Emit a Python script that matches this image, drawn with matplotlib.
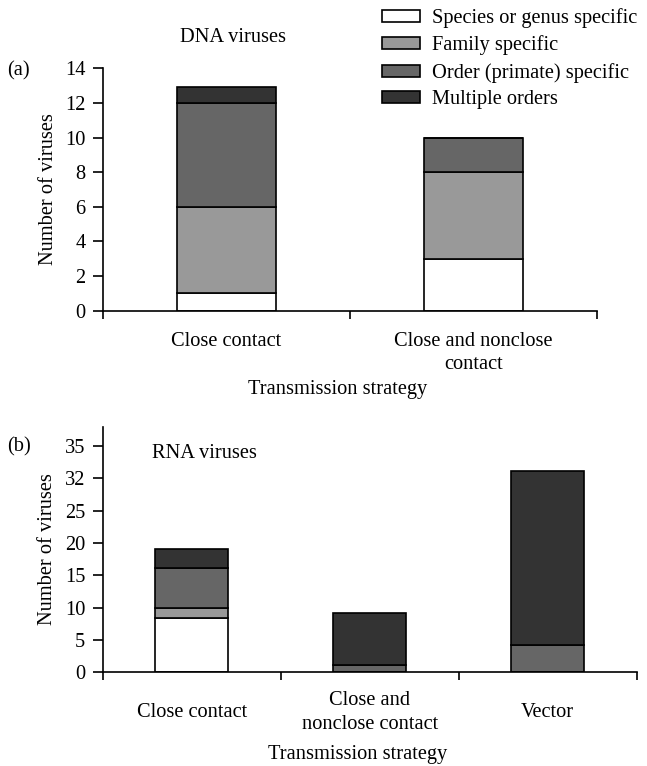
import numpy as np
import matplotlib.pyplot as plt

plt.rcParams["font.family"] = ["Liberation Serif", "DejaVu Serif"]
plt.rcParams["font.size"] = 14.7

# data
host_range = ["Species or genus specific", "Family specific",
              "Order (primate) specific", "Multiple orders"]
colors = ["white", "#999999", "#666666", "#333333"]

dna_cats = ["Close contact", "Close and nonclose\ncontact"]
dna_vals = [[1, 3],      # species or genus
            [5, 5],      # family
            [6, 2],      # order
            [0.9, 0]]    # multiple orders

rna_cats = ["Close contact", "Close and\nnonclose contact", "Vector"]
rna_vals = [[8.4, 0, 0],
            [1.6, 0, 0],
            [6.2, 1.2, 4.3],
            [2.9, 8.0, 26.8]]
rna_ticks = [0, 5, 10, 15, 20, 25, 30, 35]
rna_ticklabels = ["0", "5", "10", "15", "20", "25", "32", "35"]

W, H = 647, 766
fig = plt.figure(figsize=(W / 100, H / 100), dpi=100)
ax1 = fig.add_axes([103 / W, 1 - 310.7 / H, 494 / W, 242.4 / H])
ax2 = fig.add_axes([102.7 / W, 1 - 672.3 / H, 534 / W, 245.6 / H])


def stacked(ax, cats, vals, width):
    x = np.arange(len(cats))
    bottom = np.zeros(len(cats))
    handles = []
    for v, c, lab in zip(vals, colors, host_range):
        v = np.array(v, dtype=float)
        h = ax.bar(x, v, width, bottom=bottom, color=c, edgecolor="black",
                   linewidth=1.2, label=lab)
        handles.append(h)
        bottom += v
    ax.set_xlim(-0.5, len(cats) - 0.5)
    ax.set_xticks(np.arange(len(cats) + 1) - 0.5)
    ax.set_xticklabels([])
    ax.set_xticks(x, minor=True)
    ax.tick_params(axis="x", which="minor", length=0)
    ax.tick_params(axis="x", which="major", length=6, width=1.2, direction="out")
    ax.tick_params(axis="y", length=7, width=1.2, direction="out", pad=5.5)
    for s in ["top", "right"]:
        ax.spines[s].set_visible(False)
    for s in ["left", "bottom"]:
        ax.spines[s].set_linewidth(1.2)
    ax.set_xlabel("Transmission strategy", va="center")
    ax.set_ylabel("Number of viruses", va="center")
    return handles


handles = stacked(ax1, dna_cats, dna_vals, 0.4)
ax1.set_ylim(0, 14)
ax1.set_yticks(range(0, 15, 2))
ax1.set_xticklabels(dna_cats, minor=True, linespacing=1.35, va="top")
ax1.tick_params(axis="x", which="minor", pad=15)
ax1.xaxis.set_label_coords(0.475, -0.325)
ax1.yaxis.set_label_coords(-0.111, 0.5)

stacked(ax2, rna_cats, rna_vals, 0.41)
ax2.set_ylim(0, 38)
ax2.set_yticks(rna_ticks)
ax2.set_yticklabels(rna_ticklabels)
ax2.set_xticklabels(rna_cats, minor=True, linespacing=1.35, va="center")
ax2.tick_params(axis="x", which="minor", pad=29)
ax2.xaxis.set_label_coords(0.478, -0.335)
ax2.yaxis.set_label_coords(-0.103, 0.5)

fig.text(233 / W, 1 - 38 / H, "DNA viruses", ha="center", va="center")
fig.text(7 / W, 1 - 71 / H, "(a)", ha="left", va="center")
fig.text(7 / W, 1 - 447 / H, "(b)", ha="left", va="center")
fig.text(152 / W, 1 - 453 / H, "RNA viruses", ha="left", va="center")

fig.legend(handles=handles, loc="upper left", bbox_to_anchor=(381.7 / W, 1 - 8 / H),
           frameon=False, handlelength=1.88, handleheight=0.52,
           labelspacing=0.37, handletextpad=0.6, borderpad=0, borderaxespad=0)

fig.savefig("out.png", dpi=100)
